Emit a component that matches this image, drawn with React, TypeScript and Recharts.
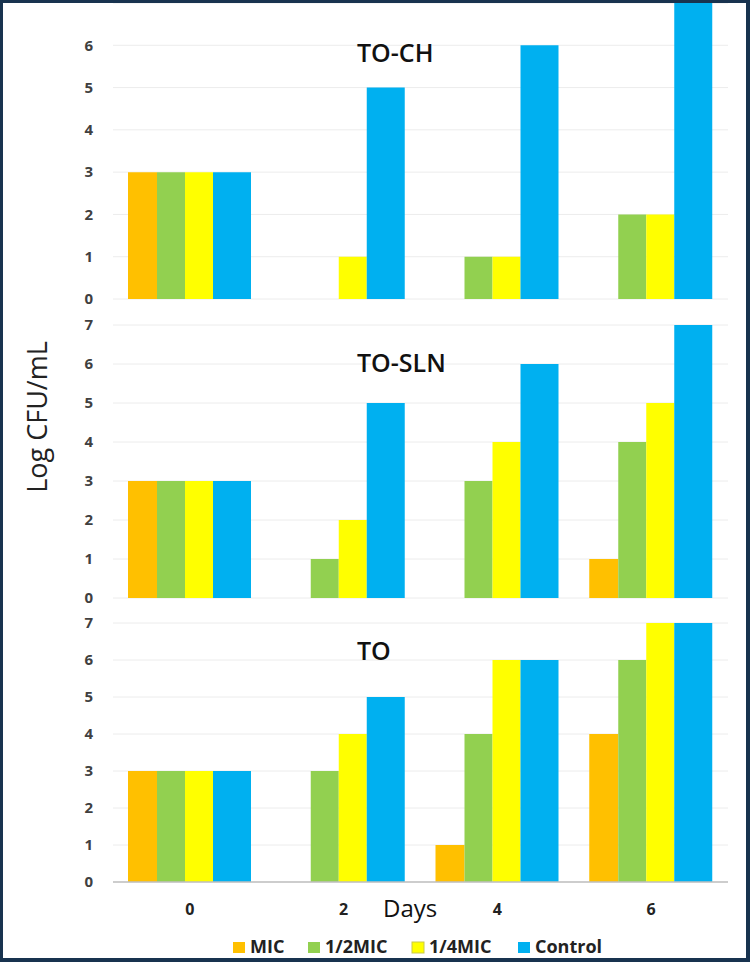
import { BarChart, Bar, XAxis, YAxis, CartesianGrid } from 'recharts'

// sampling days (x categories)
const days = ['0', '2', '4', '6']

// series
const seriesKeys = ['mic', 'half', 'quarter', 'control']
const seriesNames = ['MIC', '1/2MIC', '1/4MIC', 'Control']
const seriesColors = ['#FFC000', '#92D050', '#FFFF00', '#00B0F0']

// TO-CH panel (Log CFU/mL)
const toChMic = [3, 0, 0, 0]
const toChHalf = [3, 0, 1, 2]
const toChQuarter = [3, 1, 1, 2]
const toChControl = [3, 5, 6, 7]

// TO-SLN panel
const toSlnMic = [3, 0, 0, 1]
const toSlnHalf = [3, 1, 3, 4]
const toSlnQuarter = [3, 2, 4, 5]
const toSlnControl = [3, 5, 6, 7]

// TO panel
const toMic = [3, 0, 1, 4]
const toHalf = [3, 3, 4, 6]
const toQuarter = [3, 4, 6, 7]
const toControl = [3, 5, 6, 7]

// y tick labels
const ticksTop = [0, 1, 2, 3, 4, 5, 6]
const ticksFull = [0, 1, 2, 3, 4, 5, 6, 7]

const buildRows = (mic: number[], half: number[], quarter: number[], control: number[]) =>
  days.map((day, i) => ({
    day,
    mic: mic[i],
    half: half[i],
    quarter: quarter[i],
    control: control[i],
  }))

const toChData = buildRows(toChMic, toChHalf, toChQuarter, toChControl)
const toSlnData = buildRows(toSlnMic, toSlnHalf, toSlnQuarter, toSlnControl)
const toData = buildRows(toMic, toHalf, toQuarter, toControl)

// the Control bar is drawn wider than the others in the original
const barSizes = [29, 28, 28, 38]

const FONT = '"Open Sans", "DejaVu Sans", sans-serif'
const BORDER = '#18334f'

interface PanelProps {
  data: any[]
  ticks: number[]
  top: number
  height: number
  marginTop: number
  marginBottom: number
  showXAxis?: boolean
}

function Panel({ data, ticks, top, height, marginTop, marginBottom, showXAxis = false }: PanelProps) {
  return (
    <div style={{ position: 'absolute', left: 0, top, width: 750, height }}>
      <BarChart
        width={750}
        height={height}
        data={data}
        barGap={0}
        margin={{ top: marginTop, right: 22, left: 0, bottom: marginBottom }}
      >
        <CartesianGrid vertical={false} stroke="#ececec" />
        <XAxis
          dataKey="day"
          hide={!showXAxis}
          height={40}
          tickLine={false}
          tickSize={0}
          tickMargin={22}
          axisLine={{ stroke: '#bfbfbf', strokeWidth: 1.5 }}
          tick={{ fontSize: 16, fontWeight: 700, fill: '#222', fontFamily: FONT }}
        />
        <YAxis
          type="number"
          domain={[0, 7]}
          ticks={ticks}
          interval={0}
          width={113}
          axisLine={false}
          tickLine={false}
          tickSize={0}
          tickMargin={20}
          tick={{ fontSize: 15, fontWeight: 700, fill: '#404040', fontFamily: FONT }}
        />
        {seriesKeys.map((key, i) => (
          <Bar
            key={key}
            dataKey={key}
            name={seriesNames[i]}
            fill={seriesColors[i]}
            barSize={barSizes[i]}
            isAnimationActive={false}
          />
        ))}
      </BarChart>
    </div>
  )
}

// legend swatch positions (x of each square)
const legendX = [233, 308, 412, 518]

export default function App() {
  return (
    <div
      style={{
        position: 'absolute',
        left: 0,
        top: 0,
        width: 750,
        height: 962,
        background: '#fff',
        overflow: 'hidden',
        fontFamily: FONT,
      }}
    >
      <Panel data={toChData} ticks={ticksTop} top={0} height={308} marginTop={3} marginBottom={9} />
      <Panel data={toSlnData} ticks={ticksFull} top={310} height={298} marginTop={15} marginBottom={10} />
      <Panel data={toData} ticks={ticksFull} top={610} height={312} marginTop={13} marginBottom={0} showXAxis />

      {/* titles, axis titles and legend */}
      <svg
        width={750}
        height={962}
        style={{ position: 'absolute', left: 0, top: 0, pointerEvents: 'none' }}
      >
        <text x={357} y={62} fontSize={25} fontWeight={600} fill="#111" fontFamily={FONT}>
          TO-CH
        </text>
        <text x={357} y={372} fontSize={25} fontWeight={600} fill="#111" fontFamily={FONT}>
          TO-SLN
        </text>
        <text x={357} y={660} fontSize={25} fontWeight={600} fill="#111" fontFamily={FONT}>
          TO
        </text>

        <text
          transform="translate(47,417) rotate(-90)"
          textAnchor="middle"
          fontSize={27}
          fill="#222"
          fontFamily={FONT}
        >
          Log CFU/mL
        </text>

        <text x={383} y={917} fontSize={24} fill="#111" fontFamily={FONT}>
          Days
        </text>

        {seriesNames.map((name, i) => (
          <g key={name}>
            <rect
              x={legendX[i]}
              y={942}
              width={12}
              height={11}
              fill={seriesColors[i]}
              stroke={i === 2 ? '#c9c94a' : 'none'}
              strokeWidth={1}
            />
            <text
              x={legendX[i] + 17}
              y={953}
              fontSize={18}
              fontWeight={700}
              fill="#222"
              fontFamily={FONT}
            >
              {name}
            </text>
          </g>
        ))}
      </svg>

      {/* outer frame */}
      <div
        style={{
          position: 'absolute',
          inset: 0,
          boxSizing: 'border-box',
          borderStyle: 'solid',
          borderColor: BORDER,
          borderWidth: '3px 4px 4px 3px',
          pointerEvents: 'none',
        }}
      />
    </div>
  )
}
